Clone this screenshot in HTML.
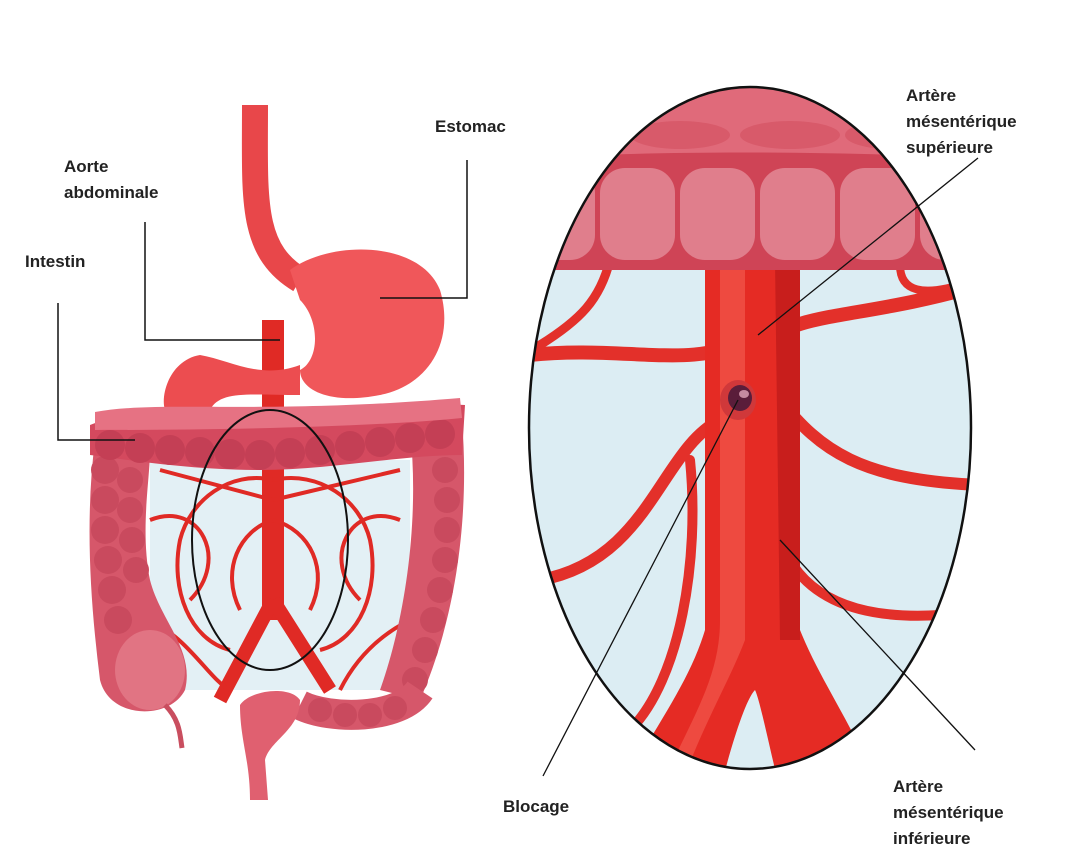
<!DOCTYPE html>
<html><head><meta charset="utf-8"><style>
html,body{margin:0;padding:0;background:#fff;}
svg{display:block}
text{font-family:"Liberation Sans",sans-serif;font-weight:bold;font-size:17px;fill:#222}
</style></head><body>
<svg width="1080" height="857" viewBox="0 0 1080 857" xmlns="http://www.w3.org/2000/svg">
<defs>
<clipPath id="ec"><ellipse cx="750" cy="428" rx="221" ry="341"/></clipPath>
</defs>
<!-- LEFT -->
<path d="M150 460 L410 460 L410 690 L150 690 Z" fill="#e3f0f5"/>
<path d="M255 105 C255 200 250 250 300 280" stroke="#e8474a" stroke-width="26" fill="none"/>
<rect x="262" y="320" width="22" height="300" fill="#e02a25"/>
<path d="M273 600 L220 700 M273 600 L330 690" stroke="#e02a25" stroke-width="14" fill="none"/>
<path d="M290 270 C330 240 420 240 440 290 C455 340 430 385 380 395 C330 405 300 390 300 370 C320 360 320 320 300 300 Z" fill="#f0575a"/>
<path d="M300 365 C260 380 230 360 200 355 C170 360 160 395 165 410 L210 410 C220 390 250 395 300 395 Z" fill="#ec4d50"/>
<g stroke="#e02a25" stroke-width="4" fill="none">
<path d="M273 480 C230 470 190 500 180 540 C170 590 190 640 230 650"/>
<path d="M273 480 C320 470 360 500 370 540 C380 590 360 640 320 650"/>
<path d="M273 520 C240 530 220 570 240 610"/>
<path d="M273 520 C310 530 330 570 310 610"/>
<path d="M150 520 C200 500 230 560 190 600 M400 520 C350 500 320 560 360 600"/>
<path d="M150 620 C190 640 210 680 230 690 M410 620 C370 640 350 670 340 690"/>
<path d="M273 500 L160 470 M273 500 L400 470"/>
</g>
<!-- ascending colon -->
<path d="M95 440 C85 520 90 600 100 680 C110 720 170 720 185 690 C195 650 160 620 150 580 C140 530 150 480 150 450 Z" fill="#d6576a"/>
<g fill="#c94a5e">
<circle cx="105" cy="470" r="14"/><circle cx="105" cy="500" r="14"/><circle cx="105" cy="530" r="14"/><circle cx="108" cy="560" r="14"/><circle cx="112" cy="590" r="14"/><circle cx="118" cy="620" r="14"/>
<circle cx="130" cy="480" r="13"/><circle cx="130" cy="510" r="13"/><circle cx="132" cy="540" r="13"/><circle cx="136" cy="570" r="13"/>
</g>
<ellipse cx="150" cy="670" rx="35" ry="40" fill="#e17483"/>
<path d="M165 705 C180 720 180 735 182 748" stroke="#c94e5f" stroke-width="5" fill="none"/>
<!-- descending colon -->
<path d="M410 430 C420 520 405 620 380 690 L420 700 C455 620 470 520 462 420 Z" fill="#d6576a"/>
<g fill="#c94a5e">
<circle cx="445" cy="470" r="13"/><circle cx="447" cy="500" r="13"/><circle cx="447" cy="530" r="13"/><circle cx="445" cy="560" r="13"/><circle cx="440" cy="590" r="13"/><circle cx="433" cy="620" r="13"/><circle cx="425" cy="650" r="13"/><circle cx="415" cy="680" r="13"/>
</g>
<path d="M420 690 C400 720 330 720 300 705" stroke="#d6576a" stroke-width="30" fill="none"/>
<g fill="#c94a5e"><circle cx="395" cy="708" r="12"/><circle cx="370" cy="715" r="12"/><circle cx="345" cy="715" r="12"/><circle cx="320" cy="710" r="12"/></g>
<path d="M240 705 C250 690 290 685 300 700 C300 730 270 740 265 760 L268 800 L250 800 C250 760 240 740 240 705 Z" fill="#e06070"/>
<!-- transverse colon -->
<path d="M90 425 C140 405 200 410 260 415 C330 420 400 400 465 405 L462 455 C400 455 330 470 260 470 C190 470 130 460 90 455 Z" fill="#d4495e"/>
<g fill="#c43f55">
<circle cx="110" cy="445" r="15"/><circle cx="140" cy="448" r="15"/><circle cx="170" cy="450" r="15"/><circle cx="200" cy="452" r="15"/><circle cx="230" cy="454" r="15"/><circle cx="260" cy="455" r="15"/><circle cx="290" cy="453" r="15"/><circle cx="320" cy="450" r="15"/><circle cx="350" cy="446" r="15"/><circle cx="380" cy="442" r="15"/><circle cx="410" cy="438" r="15"/><circle cx="440" cy="434" r="15"/>
</g>
<path d="M95 412 C160 400 260 415 460 398 L462 418 C360 428 200 430 95 430 Z" fill="#e67283"/>
<ellipse cx="270" cy="540" rx="78" ry="130" fill="none" stroke="#111" stroke-width="2"/>
<g stroke="#111" stroke-width="1.5" fill="none">
<polyline points="380,298 467,298 467,160"/>
<polyline points="145,222 145,340 280,340"/>
<polyline points="58,303 58,440 135,440"/>
</g>
<text x="435" y="132">Estomac</text>
<text x="64" y="172">Aorte</text>
<text x="64" y="198">abdominale</text>
<text x="25" y="267">Intestin</text>
<!-- RIGHT ellipse -->
<ellipse cx="750" cy="428" rx="221" ry="341" fill="#dcedf3"/>
<g clip-path="url(#ec)">
<g stroke="#e3302a" fill="none" stroke-linecap="round">
<path d="M530 355 C620 345 700 370 740 340" stroke-width="14"/>
<path d="M610 260 C600 300 580 320 540 345" stroke-width="9"/>
<path d="M760 345 C800 310 860 320 980 285" stroke-width="14"/>
<path d="M900 265 C900 290 920 300 975 280" stroke-width="8"/>
<path d="M720 420 C660 450 650 560 540 580" stroke-width="12"/>
<path d="M780 400 C820 450 860 480 980 485" stroke-width="12"/>
<path d="M690 460 C700 560 680 680 630 730" stroke-width="10"/>
<path d="M775 520 C790 600 860 620 940 615" stroke-width="10"/>
</g>
<path d="M705 255 L800 255 L800 630 C820 680 850 720 880 790 L780 790 C770 750 760 700 755 690 C745 700 730 750 720 790 L620 790 C660 720 690 680 705 630 Z" fill="#e52b24"/>
<path d="M720 260 L745 260 L745 640 C730 680 700 730 680 790 L660 790 C690 720 720 680 720 620 Z" fill="#ee4a40"/>
<path d="M775 260 L800 260 L800 640 L780 640 Z" fill="#c81e1c"/>
<ellipse cx="738" cy="400" rx="18" ry="20" fill="#d0383a"/>
<ellipse cx="740" cy="398" rx="12" ry="13" fill="#5a1d3a"/>
<ellipse cx="744" cy="394" rx="5" ry="4" fill="#c58aa0"/>
<!-- colon -->
<rect x="520" y="80" width="470" height="190" fill="#cf4456"/>
<path d="M520 80 L990 80 L990 160 C860 150 620 150 520 160 Z" fill="#e06a7a"/>
<g fill="#d85a6a"><ellipse cx="680" cy="135" rx="50" ry="14"/><ellipse cx="790" cy="135" rx="50" ry="14"/><ellipse cx="890" cy="135" rx="45" ry="14"/></g>
<g fill="#e07e8c">
<rect x="530" y="168" width="65" height="92" rx="25"/>
<rect x="600" y="168" width="75" height="92" rx="25"/>
<rect x="680" y="168" width="75" height="92" rx="25"/>
<rect x="760" y="168" width="75" height="92" rx="25"/>
<rect x="840" y="168" width="75" height="92" rx="25"/>
<rect x="920" y="168" width="70" height="92" rx="25"/>
</g>
</g>
<ellipse cx="750" cy="428" rx="221" ry="341" fill="none" stroke="#111" stroke-width="2.5"/>
<g stroke="#111" stroke-width="1.3" fill="none">
<line x1="978" y1="158" x2="758" y2="335"/>
<line x1="738" y1="400" x2="543" y2="776"/>
<line x1="780" y1="540" x2="975" y2="750"/>
</g>
<text x="906" y="101">Artère</text>
<text x="906" y="127">mésentérique</text>
<text x="906" y="153">supérieure</text>
<text x="503" y="812">Blocage</text>
<text x="893" y="792">Artère</text>
<text x="893" y="818">mésentérique</text>
<text x="893" y="844">inférieure</text>
</svg>
</body></html>
